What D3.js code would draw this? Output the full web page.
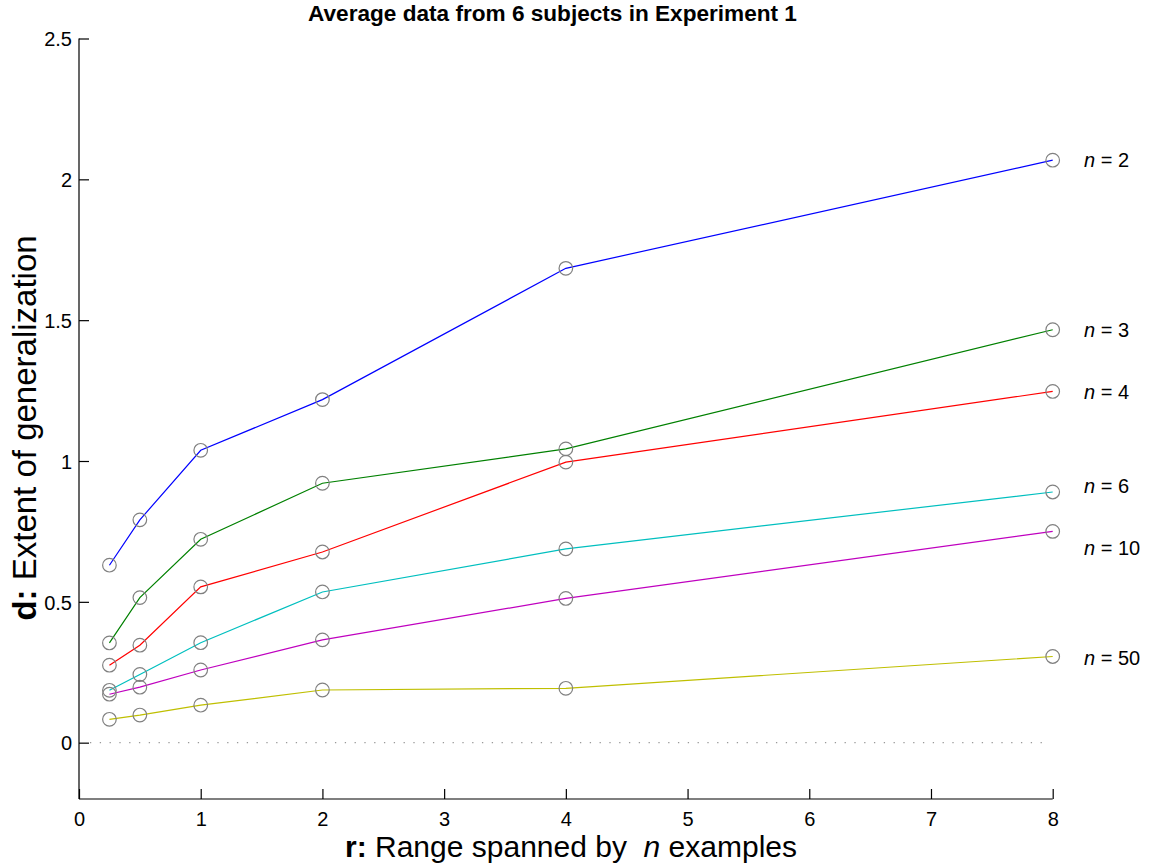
<!DOCTYPE html>
<html>
<head>
<meta charset="utf-8">
<script src="https://cdn.jsdelivr.net/npm/d3@7/dist/d3.min.js"></script>
<style>
  html, body { margin: 0; padding: 0; background: #fff; }
  svg { display: block; font-family: Arial, "Liberation Sans", Helvetica, sans-serif; }
</style>
</head>
<body>
<svg id="chart" width="1149" height="867"></svg>
<script>
// Range spanned by the n examples (r)
const ranges = [0.25, 0.5, 1, 2, 4, 8];

// Number of examples for each curve
const nValues = [2, 3, 4, 6, 10, 50];

// Extent of generalization (d), one array per n
const dN2  = [0.630, 0.791, 1.038, 1.218, 1.684, 2.068];
const dN3  = [0.354, 0.515, 0.722, 0.921, 1.043, 1.466];
const dN4  = [0.275, 0.346, 0.553, 0.677, 0.996, 1.247];
const dN6  = [0.186, 0.242, 0.355, 0.535, 0.688, 0.890];
const dN10 = [0.172, 0.197, 0.258, 0.365, 0.512, 0.750];
const dN50 = [0.083, 0.098, 0.133, 0.187, 0.193, 0.306];

// Height (in d units) of each curve's right-hand label
const labelD = [2.068, 1.466, 1.247, 0.911, 0.691, 0.300];

const lineColors = ["#0000ff", "#008000", "#ff0000", "#00bfbf", "#bf00bf", "#bfbf00"];

const xTicks = [0, 1, 2, 3, 4, 5, 6, 7, 8];
const yTicks = [0, 0.5, 1, 1.5, 2, 2.5];

const series = [dN2, dN3, dN4, dN6, dN10, dN50].map((vals, i) => ({
  n: nValues[i],
  color: lineColors[i],
  labelD: labelD[i],
  points: ranges.map((r, j) => ({ r, d: vals[j] }))
}));

const svg = d3.select("#chart");

// Plot area
const plotLeft = 79, plotRight = 1052.7, plotTop = 38.5, plotBottom = 799;
const x = d3.scaleLinear().domain([0, 8]).range([plotLeft, plotRight]);
const y = d3.scaleLinear().domain([-0.2, 2.5]).range([plotBottom, plotTop]);

// Dotted zero reference line
svg.append("line")
  .attr("x1", x(0.09)).attr("x2", x(7.96))
  .attr("y1", y(0)).attr("y2", y(0))
  .attr("stroke", "#999")
  .attr("stroke-width", 1.3)
  .attr("stroke-dasharray", "1.3 8.5");

// Axes with inward ticks
const xAxis = d3.axisBottom(x).tickValues(xTicks).tickFormat(d3.format("d"))
  .tickSize(-10).tickPadding(13);
const yAxis = d3.axisLeft(y).tickValues(yTicks).tickFormat(d => String(d))
  .tickSize(-10).tickPadding(7);

const gx = svg.append("g").attr("transform", `translate(0,${plotBottom})`).call(xAxis);
const gy = svg.append("g").attr("transform", `translate(${plotLeft},0)`).call(yAxis);

[gx, gy].forEach(g => {
  g.select(".domain").attr("stroke", "#000").attr("stroke-width", 1.2);
  g.selectAll(".tick line").attr("stroke", "#000").attr("stroke-width", 1.2);
  g.selectAll(".tick text")
    .attr("fill", "#000")
    .style("font-size", "20px")
    .style("font-family", "Arial, 'Liberation Sans', sans-serif");
});
// Axis lines span exactly the data limits (no end caps)
gx.select(".domain").attr("d", `M${plotLeft},0H${plotRight}`);
gy.select(".domain").attr("d", `M0,${y(-0.2)}V${y(2.5)}`);
gy.selectAll(".tick text").attr("dy", "0.36em");

// Curves
const line = d3.line().x(p => x(p.r)).y(p => y(p.d));

const gSeries = svg.append("g");
series.forEach(s => {
  gSeries.append("path")
    .datum(s.points)
    .attr("d", line)
    .attr("fill", "none")
    .attr("stroke", s.color)
    .attr("stroke-width", 1.2);
});

series.forEach(s => {
  gSeries.selectAll(null)
    .data(s.points)
    .join("circle")
    .attr("cx", p => x(p.r))
    .attr("cy", p => y(p.d))
    .attr("r", 6.8)
    .attr("fill", "none")
    .attr("stroke", "#808080")
    .attr("stroke-width", 1.2);
});

// Right-hand curve labels: "n = k"
const labels = svg.append("g")
  .style("font-size", "20px")
  .attr("fill", "#000");
series.forEach(s => {
  const t = labels.append("text")
    .attr("x", 1084)
    .attr("y", y(s.labelD))
    .attr("dy", "0.36em");
  t.append("tspan").style("font-style", "italic").text("n");
  t.append("tspan").text(" = " + s.n);
});

// Title
svg.append("text")
  .attr("x", 552.5)
  .attr("y", 21)
  .attr("text-anchor", "middle")
  .style("font-size", "22.6px")
  .style("font-weight", "bold")
  .text("Average data from 6 subjects in Experiment 1");

// X axis label
const xl = svg.append("text")
  .attr("x", 571)
  .attr("y", 857)
  .attr("text-anchor", "middle")
  .style("font-size", "30px")
  .attr("xml:space", "preserve");
xl.append("tspan").style("font-weight", "bold").text("r:");
xl.append("tspan").text(" Range spanned by  ");
xl.append("tspan").style("font-style", "italic").text("n");
xl.append("tspan").text(" examples");

// Y axis label
const yl = svg.append("text")
  .attr("transform", `translate(36,428) rotate(-90)`)
  .attr("text-anchor", "middle")
  .style("font-size", "33px");
yl.append("tspan").style("font-weight", "bold").text("d:");
yl.append("tspan").text(" Extent of generalization");
</script>
</body>
</html>
